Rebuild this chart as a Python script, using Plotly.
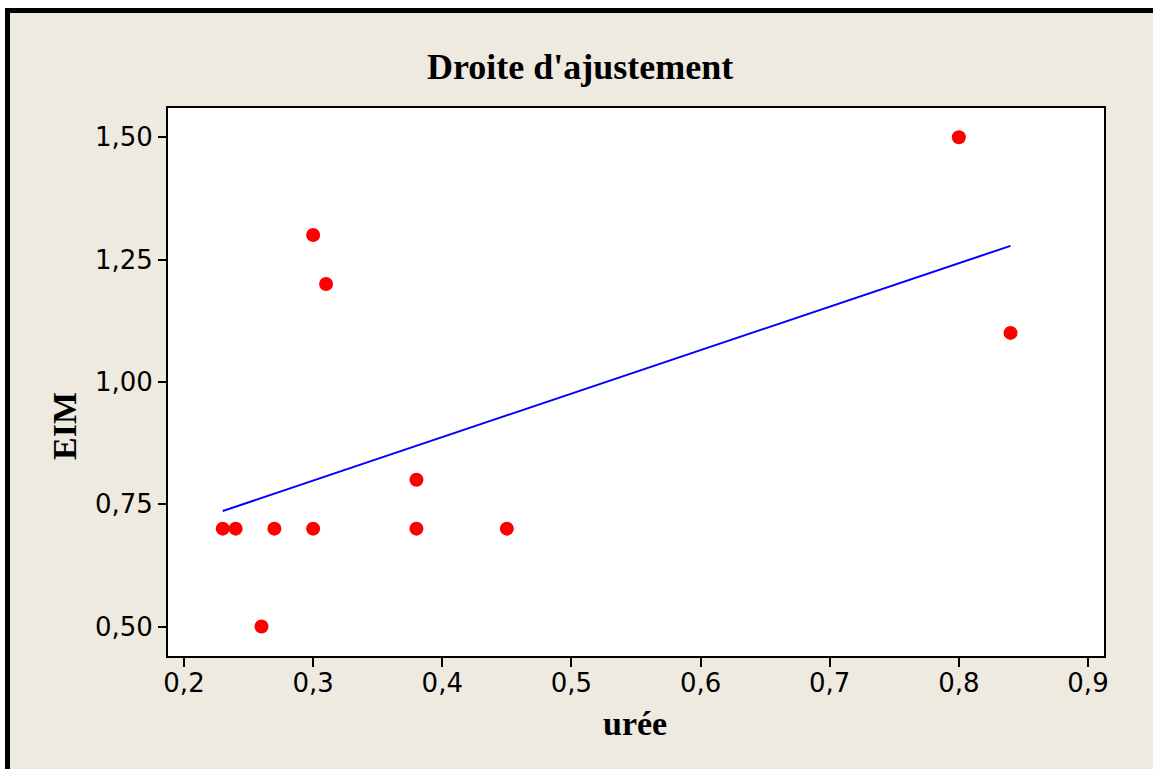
import plotly.graph_objects as go

# Data
uree = [0.23, 0.24, 0.26, 0.27, 0.30, 0.30, 0.31, 0.38, 0.38, 0.45, 0.80, 0.84]
eim = [0.70, 0.70, 0.50, 0.70, 0.70, 1.30, 1.20, 0.80, 0.70, 0.70, 1.50, 1.10]
fit_x = [0.23, 0.84]
fit_y = [0.736, 1.278]
x_ticks = [0.2, 0.3, 0.4, 0.5, 0.6, 0.7, 0.8, 0.9]
y_ticks = [0.50, 0.75, 1.00, 1.25, 1.50]

W, H = 1153, 769
L, R, T, B = 168, 1104, 108, 656  # plot area pixel edges
pw, ph = R - L, B - T

def px(x):
    return (x - L) / pw

def py(y):
    return (B - y) / ph

fig = go.Figure()
fig.add_trace(go.Scatter(x=fit_x, y=fit_y, mode="lines",
                         line=dict(color="#0000FF", width=2), showlegend=False,
                         hoverinfo="skip"))
fig.add_trace(go.Scatter(x=uree, y=eim, mode="markers",
                         marker=dict(color="#FF0000", size=14, line=dict(width=0)),
                         showlegend=False))

beige = "#EEEAE0"
axis_common = dict(showline=True, linecolor="black", linewidth=2, mirror=True,
                   ticks="outside", tickcolor="black", tickwidth=2,
                   showgrid=False, zeroline=False,
                   tickfont=dict(family="DejaVu Sans", size=26, color="black"))

fig.update_layout(
    width=W, height=H,
    margin=dict(l=L, r=W - R, t=T, b=H - B, pad=0),
    paper_bgcolor=beige, plot_bgcolor="white",
    separators=",.",
    xaxis=dict(range=[0.18761, 0.91239], tickvals=x_ticks, tickformat=".1f",
               ticklen=9, ticklabelstandoff=-6, **axis_common),
    yaxis=dict(range=[0.4397, 1.5597], tickvals=y_ticks, tickformat=".2f",
               ticklen=8, **axis_common),
    shapes=[
        dict(type="rect", xref="paper", yref="paper", x0=px(-20), x1=px(W + 20),
             y0=py(8), y1=py(-20), fillcolor="white", line=dict(width=0), layer="above"),
        dict(type="rect", xref="paper", yref="paper", x0=px(-20), x1=px(5),
             y0=py(H + 20), y1=py(-20), fillcolor="white", line=dict(width=0), layer="above"),
        dict(type="rect", xref="paper", yref="paper", x0=px(5), x1=px(W + 20),
             y0=py(13), y1=py(8), fillcolor="black", line=dict(width=0), layer="above"),
        dict(type="rect", xref="paper", yref="paper", x0=px(5), x1=px(10),
             y0=py(H + 20), y1=py(8), fillcolor="black", line=dict(width=0), layer="above"),
    ],
    annotations=[
        dict(text="<b>Droite d'ajustement</b>", xref="paper", yref="paper",
             x=px(580), y=py(67), xanchor="center", yanchor="middle", showarrow=False,
             font=dict(family="Liberation Serif", size=36, color="black")),
        dict(text="<b>urée</b>", xref="paper", yref="paper",
             x=px(635), y=py(723), xanchor="center", yanchor="middle", showarrow=False,
             font=dict(family="Liberation Serif", size=34, color="black")),
        dict(text="<b>EIM</b>", xref="paper", yref="paper", textangle=-90,
             x=px(64), y=py(426), xanchor="center", yanchor="middle", showarrow=False,
             font=dict(family="Liberation Serif", size=34, color="black")),
    ],
)

fig.write_html("out.html", config={"displayModeBar": False},
               post_script="document.body.style.margin='0';document.body.style.overflow='hidden';")
